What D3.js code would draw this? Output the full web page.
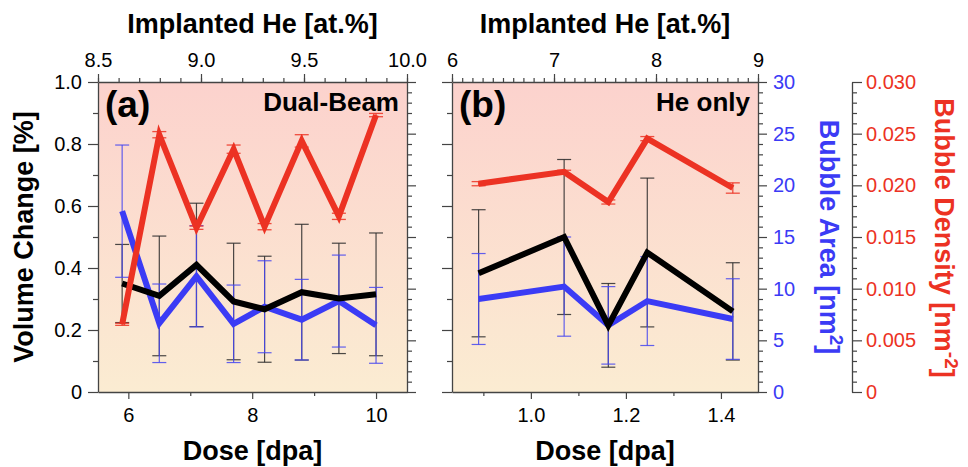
<!DOCTYPE html>
<html>
<head>
<meta charset="utf-8">
<script src="https://cdn.jsdelivr.net/npm/d3@7"></script>
<style>
    body { margin: 0; background: #fff; }
    svg { display: block; }
</style>
</head>
<body>
<div id="chart"></div>
<script>
const width = 968;
const height = 467;
const font = "'Liberation Sans', Arial, Helvetica, sans-serif";

// (a) Dual-Beam
const doseA = [5.9, 6.5, 7.1, 7.7, 8.2, 8.8, 9.4, 10.0];
const volumeA = [0.35, 0.31, 0.41, 0.292, 0.267, 0.322, 0.302, 0.315];
const volumeErrA = [0.126, 0.193, 0.199, 0.188, 0.171, 0.219, 0.178, 0.198];
const areaA = [17.5, 6.65, 11.2, 6.6, 8.25, 7.0, 8.8, 6.45];
const areaErrA = [6.4, 3.8, 4.9, 3.75, 4.45, 3.9, 4.45, 3.67];
const densityA = [0.00655, 0.0249, 0.0159, 0.0235, 0.0160, 0.0243, 0.0170, 0.0268];
const densityErrA = [0.0001, 0.0003, 0.00016, 0.0004, 0.0003, 0.0006, 0.0003, 0.00016];

// (b) He only
const doseB = [0.89, 1.07, 1.163, 1.245, 1.425];
const volumeB = [0.383, 0.50, 0.215, 0.45, 0.26];
const volumeErrB = [0.205, 0.25, 0.135, 0.24, 0.157];
const areaB = [9.0, 10.2, 6.45, 8.8, 7.06];
const areaErrB = [4.4, 4.8, 3.75, 4.3, 3.9];
const densityB = [0.02016, 0.0213, 0.01839, 0.02452, 0.01974];
const densityErrB = [0.0002, 0.00016, 0.0002, 0.0002, 0.0005];

// tick labels
const volumeTicks = [0, 0.2, 0.4, 0.6, 0.8, 1.0];
const areaTicks = [0, 5, 10, 15, 20, 25, 30];
const densityTicks = [0, 0.005, 0.010, 0.015, 0.020, 0.025, 0.030];
const doseTicksA = [6, 8, 10];
const doseMinorA = [7, 9];
const doseTicksB = [1.0, 1.2, 1.4];
const doseMinorB = [0.9, 1.1, 1.3];
const heTicksA = [8.5, 9.0, 9.5, 10.0];
const heTicksB = [6, 7, 8, 9];

const black = '#000';
const blue = '#3b3bf5';
const red = '#ec3223';
const axisColor = '#444';

const plotTop = 82;
const plotBottom = 392;

const panels = [
    {
        left: 98, right: 407, label: '(a)', name: 'Dual-Beam',
        doseDomain: [5.51, 10.5], heDomain: [8.5, 10.0],
        doseTicks: doseTicksA, doseMinor: doseMinorA, doseFormat: d3.format('d'),
        heTicks: heTicksA, heMinor: d3.range(8.5, 10.001, 0.1), heFormat: d3.format('.1f'),
        dose: doseA, volume: volumeA, volumeErr: volumeErrA,
        area: areaA, areaErr: areaErrA, density: densityA, densityErr: densityErrA
    },
    {
        left: 452, right: 758, label: '(b)', name: 'He only',
        doseDomain: [0.834, 1.478], heDomain: [6, 9],
        doseTicks: doseTicksB, doseMinor: doseMinorB, doseFormat: d3.format('.1f'),
        heTicks: heTicksB, heMinor: d3.range(6, 9.001, 0.1), heFormat: d3.format('d'),
        dose: doseB, volume: volumeB, volumeErr: volumeErrB,
        area: areaB, areaErr: areaErrB, density: densityB, densityErr: densityErrB
    }
];

const svg = d3.select('#chart').append('svg')
    .attr('width', width)
    .attr('height', height)
    .style('font-family', font);

// background gradient
const grad = svg.append('defs').append('linearGradient')
    .attr('id', 'bg')
    .attr('x1', 0).attr('y1', 0).attr('x2', 0).attr('y2', 1);
grad.append('stop').attr('offset', '0%').attr('stop-color', '#fcd2cd');
grad.append('stop').attr('offset', '100%').attr('stop-color', '#fbecd2');

const yVolume = d3.scaleLinear().domain([0, 1]).range([plotBottom, plotTop]);
const yArea = d3.scaleLinear().domain([0, 30]).range([plotBottom, plotTop]);
const yDensity = d3.scaleLinear().domain([0, 0.03]).range([plotBottom, plotTop]);

function styleAxis(sel, labelColor) {
    sel.attr('font-size', 20).attr('font-family', font);
    sel.select('.domain').attr('stroke', axisColor).attr('stroke-width', 1.3);
    sel.selectAll('.tick line').attr('stroke', axisColor).attr('stroke-width', 1.2);
    sel.selectAll('.tick text').attr('fill', labelColor);
    return sel;
}

function addAxis(g, axisFn, scale, ticks, size, padding, fmt, transform, labelColor, keepDomain) {
    const axis = axisFn(scale)
        .tickValues(ticks)
        .tickSizeInner(size)
        .tickSizeOuter(0)
        .tickPadding(padding)
        .tickFormat(fmt);
    const sel = g.append('g').attr('transform', transform).call(axis);
    styleAxis(sel, labelColor);
    if (!keepDomain) sel.select('.domain').remove();
    return sel;
}

const noLabel = () => '';
const volumeFormat = d => d === 0 ? '0' : d3.format('.1f')(d);
const densityFormat = d => d === 0 ? '0' : d3.format('.3f')(d);

function drawErrorBars(g, xs, ys, errs, x, y, color, width) {
    const data = xs.map((d, i) => ({ x: d, lo: ys[i] - errs[i], hi: ys[i] + errs[i] }));
    const bars = g.append('g')
        .attr('stroke', color)
        .attr('stroke-width', width)
        .attr('stroke-opacity', 0.85);
    bars.selectAll('line.bar')
        .data(data)
        .enter()
        .append('line')
        .attr('class', 'bar')
        .attr('x1', d => x(d.x)).attr('x2', d => x(d.x))
        .attr('y1', d => y(d.lo)).attr('y2', d => y(d.hi));
    bars.selectAll('line.cap')
        .data(data.flatMap(d => [{ x: d.x, v: d.lo }, { x: d.x, v: d.hi }]))
        .enter()
        .append('line')
        .attr('class', 'cap')
        .attr('x1', d => x(d.x) - 7).attr('x2', d => x(d.x) + 7)
        .attr('y1', d => y(d.v)).attr('y2', d => y(d.v));
}

function drawLine(g, xs, ys, x, y, color) {
    const line = d3.line()
        .x(d => x(d[0]))
        .y(d => y(d[1]));
    g.append('path')
        .datum(xs.map((d, i) => [d, ys[i]]))
        .attr('d', line)
        .attr('fill', 'none')
        .attr('stroke', color)
        .attr('stroke-width', 6)
        .attr('stroke-linejoin', 'miter');
}

panels.forEach((p, idx) => {
    const g = svg.append('g');
    const x = d3.scaleLinear().domain(p.doseDomain).range([p.left, p.right]);
    const xTop = d3.scaleLinear().domain(p.heDomain).range([p.left, p.right]);

    g.append('rect')
        .attr('x', p.left)
        .attr('y', plotTop)
        .attr('width', p.right - p.left)
        .attr('height', plotBottom - plotTop)
        .attr('fill', 'url(#bg)');

    // error bars under the lines
    drawErrorBars(g, p.dose, p.volume, p.volumeErr, x, yVolume, '#2a2a2a', 1.2);
    drawErrorBars(g, p.dose, p.area, p.areaErr, x, yArea, '#4646f0', 1.2);
    drawErrorBars(g, p.dose, p.density, p.densityErr, x, yDensity, red, 1.3);

    drawLine(g, p.dose, p.area, x, yArea, blue);
    drawLine(g, p.dose, p.volume, x, yVolume, black);
    drawLine(g, p.dose, p.density, x, yDensity, red);

    // bottom axis (dose)
    addAxis(g, d3.axisBottom, x, p.doseTicks, 7, 9, p.doseFormat, `translate(0,${plotBottom})`, '#000', true);
    addAxis(g, d3.axisBottom, x, p.doseMinor, 4, 0, noLabel, `translate(0,${plotBottom})`, '#000', false);

    // top axis (implanted He)
    addAxis(g, d3.axisTop, xTop, p.heTicks, 8, 7, p.heFormat, `translate(0,${plotTop})`, '#000', true);
    addAxis(g, d3.axisTop, xTop, p.heMinor, 4, 0, noLabel, `translate(0,${plotTop})`, '#000', false);

    // left axis (volume change), labels only on panel (a)
    addAxis(g, d3.axisLeft, yVolume, volumeTicks, 10, 6, idx === 0 ? volumeFormat : noLabel, `translate(${p.left},0)`, '#000', true);
    addAxis(g, d3.axisLeft, yVolume, d3.range(0.1, 1, 0.2), 5, 0, noLabel, `translate(${p.left},0)`, '#000', false);

    // right axis (bubble area), labels only on panel (b)
    addAxis(g, d3.axisRight, yArea, areaTicks, 9, 6, idx === 1 ? d3.format('d') : noLabel, `translate(${p.right},0)`, blue, true);
    addAxis(g, d3.axisRight, yArea, d3.range(0, 31, 1).filter(d => d % 5 !== 0), 5, 0, noLabel, `translate(${p.right},0)`, blue, false);

    // titles
    const cx = (p.left + p.right) / 2;
    g.append('text')
        .attr('x', cx).attr('y', 33)
        .attr('text-anchor', 'middle')
        .attr('font-size', 27).attr('font-weight', 'bold')
        .text('Implanted He [at.%]');
    g.append('text')
        .attr('x', cx).attr('y', 460)
        .attr('text-anchor', 'middle')
        .attr('font-size', 27).attr('font-weight', 'bold')
        .text('Dose [dpa]');

    g.append('text')
        .attr('x', p.left + 7).attr('y', 117)
        .attr('font-size', 37).attr('font-weight', 'bold')
        .text(p.label);
    g.append('text')
        .attr('x', p.right - 8).attr('y', 111)
        .attr('text-anchor', 'end')
        .attr('font-size', 26).attr('font-weight', 'bold')
        .text(p.name);
});

// separate density axis
const densityAxisX = 852;
const da = svg.append('g');
addAxis(da, d3.axisRight, yDensity, densityTicks, 10, 4, densityFormat, `translate(${densityAxisX},0)`, red, true);
addAxis(da, d3.axisRight, yDensity, d3.range(0, 0.0305, 0.001).filter((d, i) => i % 5 !== 0), 5, 0, noLabel, `translate(${densityAxisX},0)`, red, false);

// y titles
const midY = (plotTop + plotBottom) / 2;
svg.append('text')
    .attr('transform', `translate(33,${midY}) rotate(-90)`)
    .attr('text-anchor', 'middle')
    .attr('font-size', 27).attr('font-weight', 'bold')
    .text('Volume Change [%]');

const areaTitle = svg.append('text')
    .attr('transform', `translate(820,${midY}) rotate(90)`)
    .attr('text-anchor', 'middle')
    .attr('font-size', 27).attr('font-weight', 'bold')
    .attr('fill', blue);
areaTitle.append('tspan').text('Bubble Area [nm');
areaTitle.append('tspan').attr('dy', -10).attr('font-size', 19).text('2');
areaTitle.append('tspan').attr('dy', 10).text(']');

const densityTitle = svg.append('text')
    .attr('transform', `translate(935,${midY + 1}) rotate(90)`)
    .attr('text-anchor', 'middle')
    .attr('font-size', 27).attr('font-weight', 'bold')
    .attr('fill', red);
densityTitle.append('tspan').text('Bubble Density [nm');
densityTitle.append('tspan').attr('dy', -10).attr('font-size', 19).text('-2');
densityTitle.append('tspan').attr('dy', 10).text(']');
</script>
</body>
</html>
